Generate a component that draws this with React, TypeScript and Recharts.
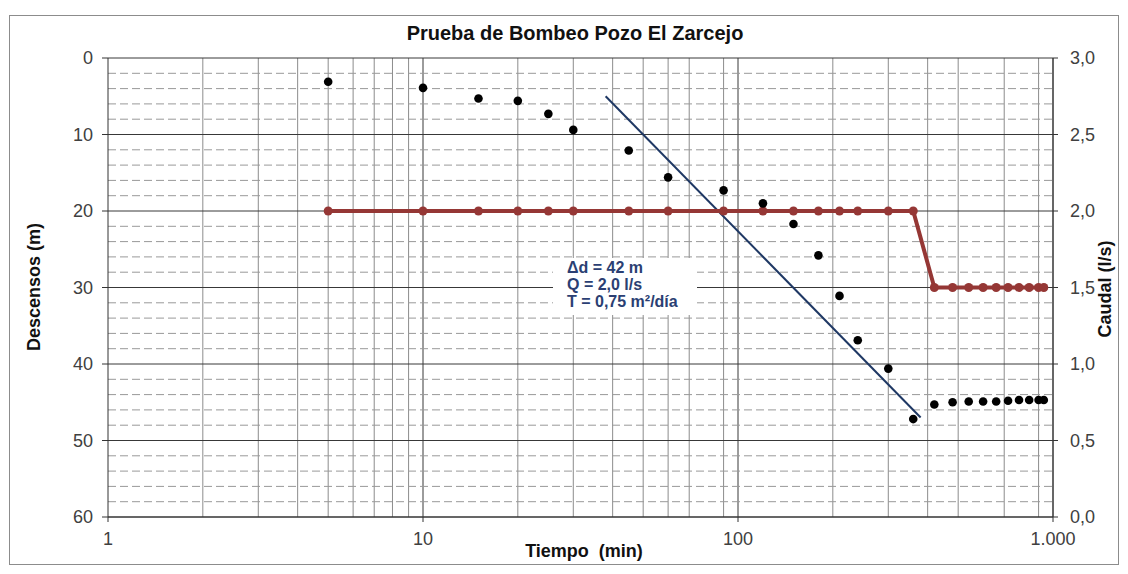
// Prueba de bombeo: descensos (log t) y caudal
import React from 'react';
import {
  ComposedChart,
  Scatter,
  XAxis,
  YAxis,
  CartesianGrid,
  ReferenceLine
} from 'recharts';

const FONT = '"Liberation Sans", Arial, sans-serif';

// tiempo (min)
const tiempos = [5, 10, 15, 20, 25, 30, 45, 60, 90, 120, 150, 180, 210, 240, 300, 360,
  420, 480, 540, 600, 660, 720, 780, 840, 900, 935];
// descensos (m)
const descensos = [3.1, 3.9, 5.3, 5.6, 7.3, 9.4, 12.1, 15.6, 17.3, 19.0, 21.7, 25.8, 31.1, 36.9, 40.6, 47.2,
  45.3, 45.0, 44.9, 44.9, 44.9, 44.8, 44.7, 44.7, 44.7, 44.7];
// caudal (l/s)
const caudales = [2.0, 2.0, 2.0, 2.0, 2.0, 2.0, 2.0, 2.0, 2.0, 2.0, 2.0, 2.0, 2.0, 2.0, 2.0, 2.0,
  1.5, 1.5, 1.5, 1.5, 1.5, 1.5, 1.5, 1.5, 1.5, 1.5];

// recta de Jacob
const rectaT = [38, 380];
const rectaD = [5, 47];

const xTicks = [1, 10, 100, 1000];
const yTicks = [0, 10, 20, 30, 40, 50, 60];
const qTicks = [0, 0.5, 1.0, 1.5, 2.0, 2.5, 3.0];
const yMinor = [2, 4, 6, 8, 12, 14, 16, 18, 22, 24, 26, 28, 32, 34, 36, 38, 42, 44, 46, 48, 52, 54, 56, 58];
const xMinor = [1, 10, 100].flatMap(d => [2, 3, 4, 5, 6, 7, 8, 9].map(k => k * d));

const descData = tiempos.map((t, i) => ({ t, v: descensos[i] }));
const caudalData = tiempos.map((t, i) => ({ t, v: caudales[i] }));

const fmtX = (v: number) => (v >= 1000 ? v.toLocaleString('de-DE') : String(v));
const fmtQ = (v: number) => v.toFixed(1).replace('.', ',');

const tickStyle = { fill: '#404040', fontSize: 18, fontFamily: FONT };

export default function App() {
  return (
    <div style={{ position: 'relative', width: 1112, height: 558, fontFamily: FONT }}>
      <div
        style={{
          position: 'absolute', left: 1, top: 7, width: 1110, height: 550,
          border: '1px solid #8c8c8c', boxSizing: 'border-box'
        }}
      />
      <ComposedChart width={1112} height={558} margin={{ top: 50, right: 17, bottom: 19, left: 40 }}>
        <CartesianGrid yAxisId="left" horizontal={false} verticalValues={xMinor} stroke="#8c8c8c" />
        {yMinor.map(v => (
          <ReferenceLine key={'m' + v} yAxisId="left" y={v} stroke="#999" strokeDasharray="8 4" />
        ))}
        <CartesianGrid yAxisId="left" verticalValues={[10, 100, 1000]} horizontalValues={yTicks} stroke="#383838" />
        <XAxis
          dataKey="t"
          type="number"
          scale="log"
          domain={[1, 1000]}
          ticks={xTicks}
          tickFormatter={fmtX}
          allowDataOverflow
          height={30}
          stroke="#333"
          tickSize={5}
          tickMargin={10}
          tick={tickStyle}
        />
        <YAxis
          yAxisId="left"
          dataKey="v"
          type="number"
          domain={[0, 60]}
          ticks={yTicks}
          reversed
          allowDataOverflow
          width={60}
          stroke="#333"
          tickSize={6}
          tickMargin={9}
          tick={tickStyle}
        />
        <YAxis
          yAxisId="right"
          orientation="right"
          dataKey="v"
          type="number"
          domain={[0, 3]}
          ticks={qTicks}
          tickFormatter={fmtQ}
          allowDataOverflow
          width={50}
          stroke="#333"
          tickSize={5}
          tickMargin={12}
          tick={tickStyle}
        />
        <ReferenceLine
          yAxisId="left"
          segment={[{ x: rectaT[0], y: rectaD[0] }, { x: rectaT[1], y: rectaD[1] }]}
          stroke="#1f3864"
          strokeWidth={2}
          ifOverflow="visible"
        />
        <Scatter
          yAxisId="right"
          data={caudalData}
          dataKey="v"
          line={{ stroke: '#953735', strokeWidth: 4 }}
          isAnimationActive={false}
          shape={(p: any) => <circle cx={p.cx} cy={p.cy} r={4.5} fill="#953735" />}
        />
        <Scatter
          yAxisId="left"
          data={descData}
          dataKey="v"
          isAnimationActive={false}
          shape={(p: any) => <circle cx={p.cx} cy={p.cy} r={4.3} fill="#000" />}
        />
      </ComposedChart>

      <div style={{
        position: 'absolute', left: 567, top: 25, transform: 'translate(-50%, -50%)',
        fontSize: 20, fontWeight: 'bold', color: '#111', whiteSpace: 'nowrap'
      }}>
        Prueba de Bombeo Pozo El Zarcejo
      </div>
      <div style={{
        position: 'absolute', left: 26, top: 279, transform: 'translate(-50%, -50%) rotate(-90deg)',
        fontSize: 18, fontWeight: 'bold', color: '#111', whiteSpace: 'nowrap'
      }}>
        Descensos (m)
      </div>
      <div style={{
        position: 'absolute', left: 1097, top: 281, transform: 'translate(-50%, -50%) rotate(-90deg)',
        fontSize: 18, fontWeight: 'bold', color: '#111', whiteSpace: 'nowrap'
      }}>
        Caudal (l/s)
      </div>
      <div style={{
        position: 'absolute', left: 576, top: 543, transform: 'translate(-50%, -50%)',
        fontSize: 18, fontWeight: 'bold', color: '#111', whiteSpace: 'pre'
      }}>
        Tiempo  (min)
      </div>
      <div style={{
        position: 'absolute', left: 545, top: 250, width: 144, height: 57, background: '#fff',
        boxSizing: 'border-box', padding: '1px 0 0 14px',
        fontSize: 16, lineHeight: '17px', fontWeight: 'bold', color: '#2b3f73', whiteSpace: 'nowrap'
      }}>
        <div>Δd = 42 m</div>
        <div>Q = 2,0 l/s</div>
        <div>T = 0,75 m²/día</div>
      </div>
    </div>
  );
}
